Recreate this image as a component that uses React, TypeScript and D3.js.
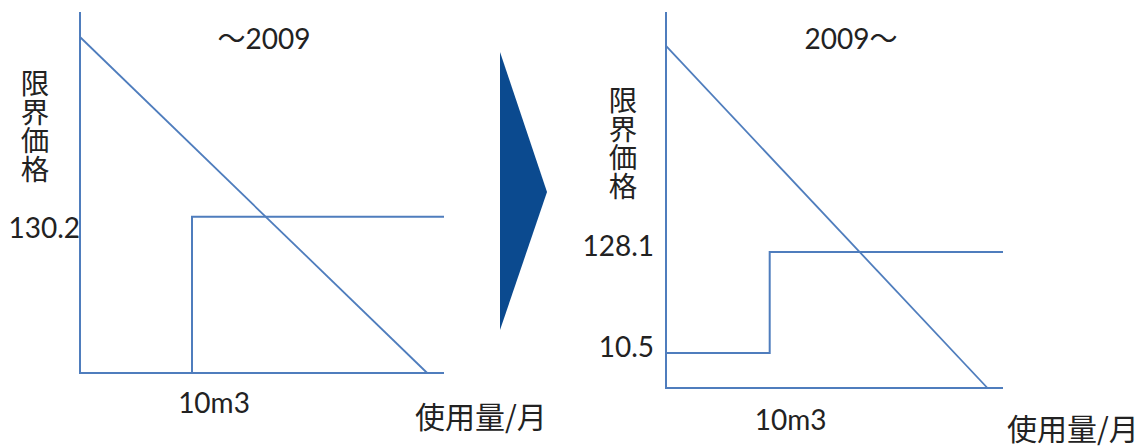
import React from "react";
import * as d3 from "d3";

// ---- data ----
const usageTicks = [10];
const usageTickLabels = ["10m3"];
const usageMax = 32.5;
const demandQtyIntercept = 31;
const demandPriceIntercept = 280;

const beforeTitle = "～2009";
const afterTitle = "2009～";
const beforeQty = [0, 10, 32.5];
const beforePrices = [0, 130.2, 130.2];
const beforePriceLabels = ["130.2"];
const beforeLabelPrices = [130.2];
const afterQty = [0, 10, 32.5];
const afterPrices = [10.5, 128.1, 128.1];
const afterPriceLabels = ["128.1", "10.5"];
const afterLabelPrices = [128.1, 10.5];
const yAxisLabel = "限界価格";
const xAxisLabel = "使用量/月";

const LINE = "#4f7dbd";
const TEXT = "#222";
const LATIN = "Lato, 'Noto Sans CJK JP', sans-serif";
const CJK = "'Noto Sans CJK JP', sans-serif";

type PanelProps = {
  x: d3.ScaleLinear<number, number>;
  y: d3.ScaleLinear<number, number>;
  axisTop: number;
  title: string;
  titleX: number;
  qty: number[];
  prices: number[];
  labelPrices: number[];
  labels: string[];
  labelEndX: number;
  labelDy: number;
  tickDx: number;
  tickDy: number;
  yLabelX: number;
  yLabelTop: number;
  xLabelX: number;
  xLabelY: number;
};

function Panel(p: PanelProps) {
  const { x, y } = p;
  const x0 = x(0);
  const y0 = y(0);
  const step = d3
    .line<number>()
    .x((_, i) => x(p.qty[i]))
    .y((d) => y(d))
    .curve(d3.curveStepAfter)(p.prices);
  const demand = d3.line<[number, number]>()
    .x((d) => x(d[0]))
    .y((d) => y(d[1]))([
    [0, demandPriceIntercept],
    [demandQtyIntercept, 0],
  ]);
  return (
    <g>
      <path
        d={`M${x0},${p.axisTop}V${y0}H${x(usageMax)}`}
        fill="none"
        stroke={LINE}
        strokeWidth={2}
      />
      <path d={step || ""} fill="none" stroke={LINE} strokeWidth={2} />
      <path d={demand || ""} fill="none" stroke={LINE} strokeWidth={1.8} />
      <text
        x={p.titleX}
        y={49}
        textAnchor="middle"
        fontFamily={LATIN}
        fontSize={28}
        fill={TEXT}
      >
        {p.title}
      </text>
      {p.labelPrices.map((v, i) => (
        <text
          key={i}
          x={p.labelEndX}
          y={y(v) + p.labelDy}
          textAnchor="end"
          fontFamily={LATIN}
          fontSize={28}
          fill={TEXT}
        >
          {p.labels[i]}
        </text>
      ))}
      {usageTicks.map((t, i) => (
        <text
          key={i}
          x={x(t) + p.tickDx}
          y={y0 + p.tickDy}
          textAnchor="middle"
          fontFamily={LATIN}
          fontSize={28}
          fill={TEXT}
        >
          {usageTickLabels[i]}
        </text>
      ))}
      <text
        x={p.yLabelX}
        y={p.yLabelTop}
        fontFamily={CJK}
        fontSize={28.5}
        fill={TEXT}
        style={{ writingMode: "vertical-rl" as any }}
      >
        {yAxisLabel}
      </text>
      <text
        x={p.xLabelX}
        y={p.xLabelY}
        fontFamily={CJK}
        fontSize={30}
        fill={TEXT}
      >
        {xAxisLabel}
      </text>
    </g>
  );
}

export default function App() {
  const xLeft = d3.scaleLinear().domain([0, usageMax]).range([80, 444]);
  const yLeft = d3.scaleLinear().domain([0, 300]).range([373, 13]);
  const xRight = d3.scaleLinear().domain([0, usageMax]).range([666, 1003]);
  // the right panel is drawn not to scale in the reference
  const yRight = d3
    .scaleLinear()
    .domain([0, afterPrices[0], afterPrices[1], 305])
    .range([388, 353, 252, 12]);

  return (
    <svg
      width={1143}
      height={448}
      style={{ position: "absolute", left: 0, top: 0, background: "#fff" }}
    >
      <rect width={1143} height={448} fill="#fff" />
      <Panel
        x={xLeft}
        y={yLeft}
        axisTop={12}
        title={beforeTitle}
        titleX={264}
        qty={beforeQty}
        prices={beforePrices}
        labelPrices={beforeLabelPrices}
        labels={beforePriceLabels}
        labelEndX={80}
        labelDy={21}
        tickDx={22}
        tickDy={40}
        yLabelX={35}
        yLabelTop={69}
        xLabelX={415}
        xLabelY={428}
      />
      <Panel
        x={xRight}
        y={yRight}
        axisTop={12}
        title={afterTitle}
        titleX={851}
        qty={afterQty}
        prices={afterPrices}
        labelPrices={afterLabelPrices}
        labels={afterPriceLabels}
        labelEndX={654}
        labelDy={4}
        tickDx={21}
        tickDy={42}
        yLabelX={623}
        yLabelTop={86}
        xLabelX={1007}
        xLabelY={440}
      />
      <polygon points="500,52 547,192 500,330" fill="#0b4a8f" />
    </svg>
  );
}
